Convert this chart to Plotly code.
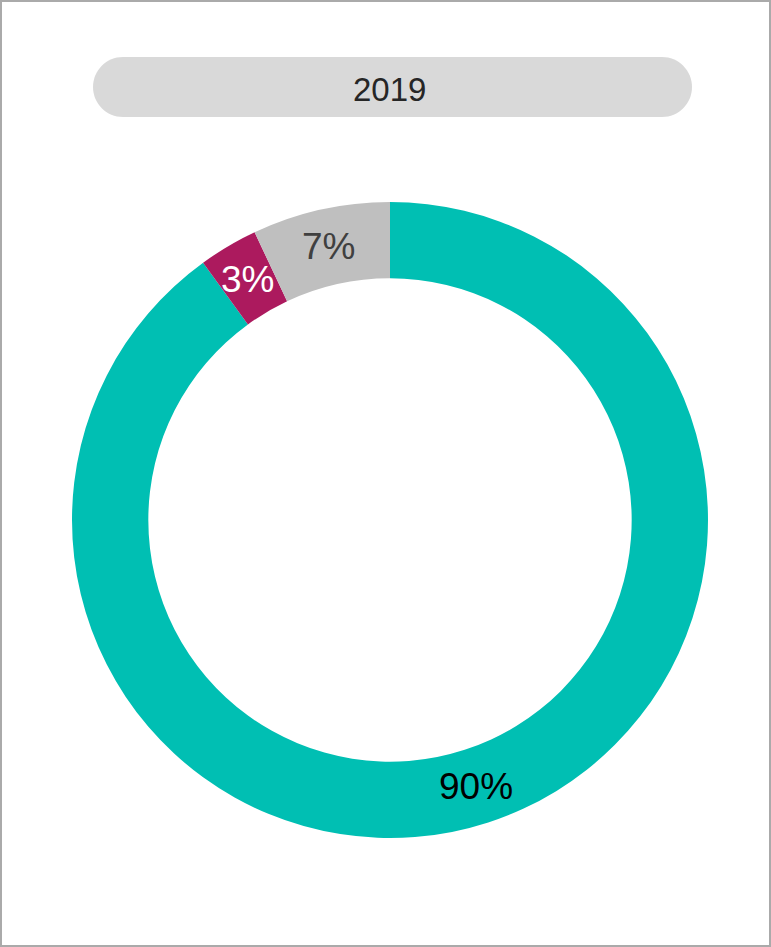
import math
import plotly.graph_objects as go

# Share of each category in 2019
year_label = "2019"
categories = ["Category A", "Category B", "Category C"]
shares = [90, 3, 7]
slice_colors = ["#00bfb3", "#ac1a5e", "#bfbfbf"]
label_colors = ["#000000", "#ffffff", "#404040"]

W, H = 771, 947
FONT = "Liberation Sans, Arial, sans-serif"

# donut geometry in pixels
CX, CY = 390, 520
R_OUT = 318
HOLE = 0.76


def px_x(x):
    return x / W


def px_y(y):
    return 1 - y / H


def pill_path(x0, y0, x1, y1):
    """Rounded 'pill' outline in paper coordinates from pixel bounds."""
    r = (y1 - y0) / 2
    k = 0.5523 * r
    pts = [
        f"M {px_x(x0 + r)},{px_y(y0)}",
        f"L {px_x(x1 - r)},{px_y(y0)}",
        f"C {px_x(x1 - r + k)},{px_y(y0)} {px_x(x1)},{px_y(y0 + r - k)} {px_x(x1)},{px_y(y0 + r)}",
        f"C {px_x(x1)},{px_y(y0 + r + k)} {px_x(x1 - r + k)},{px_y(y1)} {px_x(x1 - r)},{px_y(y1)}",
        f"L {px_x(x0 + r)},{px_y(y1)}",
        f"C {px_x(x0 + r - k)},{px_y(y1)} {px_x(x0)},{px_y(y0 + r + k)} {px_x(x0)},{px_y(y0 + r)}",
        f"C {px_x(x0)},{px_y(y0 + r - k)} {px_x(x0 + r - k)},{px_y(y0)} {px_x(x0 + r)},{px_y(y0)}",
        "Z",
    ]
    return " ".join(pts)


fig = go.Figure(
    go.Pie(
        labels=categories,
        values=shares,
        sort=False,
        direction="clockwise",
        rotation=0,
        hole=HOLE,
        marker=dict(colors=slice_colors, line=dict(width=0)),
        textinfo="none",
        domain=dict(x=[px_x(CX - R_OUT), px_x(CX + R_OUT)],
                    y=[px_y(CY + R_OUT), px_y(CY - R_OUT)]),
        showlegend=False,
        hoverinfo="label+percent",
    )
)

# value labels centred in the ring at each slice's mid-angle
total = sum(shares)
r_mid = R_OUT * (1 + HOLE) / 2
annotations = []
start = 0.0
for share, color in zip(shares, label_colors):
    frac = share / total
    mid = (start + frac / 2) * 2 * math.pi
    start += frac
    x = CX + r_mid * math.sin(mid)
    y = CY - r_mid * math.cos(mid)
    annotations.append(dict(
        text=f"{share}%", xref="paper", yref="paper",
        x=px_x(x), y=px_y(y), xanchor="center", yanchor="middle",
        showarrow=False, font=dict(family=FONT, size=37, color=color),
    ))

annotations.append(dict(
    text=year_label, xref="paper", yref="paper",
    x=px_x(389), y=px_y(89), xanchor="center", yanchor="middle",
    showarrow=False, font=dict(family=FONT, size=33, color="#262626"),
))

fig.update_layout(
    width=W,
    height=H,
    margin=dict(l=0, r=0, t=0, b=0),
    paper_bgcolor="#ffffff",
    plot_bgcolor="#ffffff",
    shapes=[
        # outer frame
        dict(type="rect", xref="paper", yref="paper",
             x0=px_x(1), x1=px_x(770), y0=px_y(946), y1=px_y(1),
             line=dict(color="#aaaaaa", width=2), fillcolor="rgba(0,0,0,0)", layer="above"),
        # year banner
        dict(type="path", xref="paper", yref="paper",
             path=pill_path(93, 57, 692, 117),
             fillcolor="#d9d9d9", line=dict(width=0), layer="below"),
    ],
    annotations=annotations,
)

fig.write_html("out.html")
